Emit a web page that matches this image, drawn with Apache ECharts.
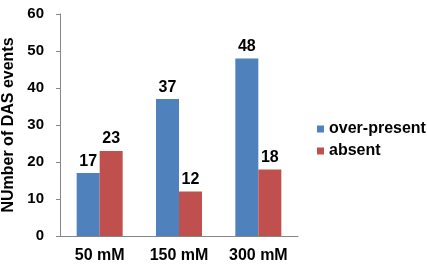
<!DOCTYPE html>
<html>
<head>
<meta charset="utf-8">
<script src="https://cdn.jsdelivr.net/npm/echarts@6/dist/echarts.min.js"></script>
<style>
    html, body { margin: 0; padding: 0; background: #fff; }
    #chart { width: 427px; height: 264px; }
</style>
</head>
<body>
<div id="chart"></div>
<script>
const categories = ["50 mM", "150 mM", "300 mM"]
const overPresent = [17, 37, 48]
const absent = [23, 12, 18]
const seriesNames = ["over-present", "absent"]

const font = "Liberation Sans, Arial, sans-serif"
const axisGray = "#868686"

const labelStyle = {
    show: true,
    position: "top",
    distance: 4,
    color: "#000",
    fontFamily: font,
    fontWeight: "bold",
    fontSize: 16
}

const chart = echarts.init(document.getElementById("chart"))

chart.setOption({
    animation: false,
    textStyle: { fontFamily: font },
    grid: { left: 60, top: 14, right: 129, bottom: 28, containLabel: false, outerBoundsMode: "none" },
    legend: {
        orient: "vertical",
        left: 312,
        top: 116,
        itemWidth: 7,
        itemHeight: 7,
        itemGap: 6,
        icon: "rect",
        textStyle: { fontFamily: font, fontWeight: "bold", fontSize: 16, color: "#000" },
        data: seriesNames
    },
    xAxis: {
        type: "category",
        data: categories,
        axisLine: { lineStyle: { color: axisGray } },
        axisTick: { show: false },
        axisLabel: { color: "#000", fontFamily: font, fontWeight: "bold", fontSize: 16, margin: 12 }
    },
    yAxis: {
        type: "value",
        min: 0,
        max: 60,
        interval: 10,
        name: "NUmber of DAS events",
        nameLocation: "middle",
        nameGap: 38,
        nameTextStyle: { color: "#000", fontFamily: font, fontWeight: "bold", fontSize: 16 },
        axisLine: { show: true, lineStyle: { color: axisGray } },
        axisTick: { show: true, length: 4, lineStyle: { color: axisGray } },
        splitLine: { show: false },
        axisLabel: { color: "#000", fontFamily: font, fontWeight: "bold", fontSize: 15, margin: 16 }
    },
    series: [
        {
            name: seriesNames[0],
            type: "bar",
            data: overPresent,
            barWidth: 23,
            barGap: "0%",
            itemStyle: { color: "#4F81BD" },
            label: labelStyle
        },
        {
            name: seriesNames[1],
            type: "bar",
            data: absent,
            barWidth: 23,
            itemStyle: { color: "#C0504D" },
            label: labelStyle
        }
    ]
})
</script>
</body>
</html>
